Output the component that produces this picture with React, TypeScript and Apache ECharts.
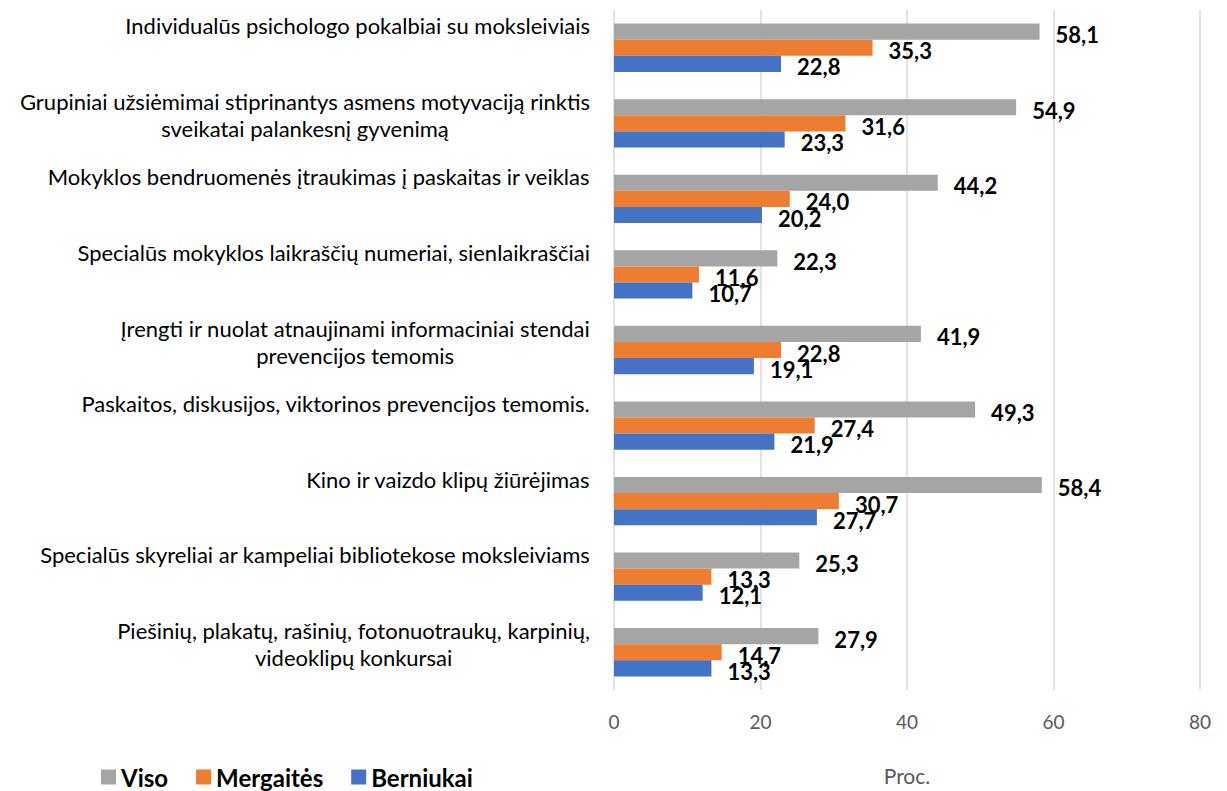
import React, { useEffect, useRef } from "react";
import * as echarts from "echarts";

const categories = [
  "Individualūs psichologo pokalbiai su moksleiviais",
  "Grupiniai užsiėmimai stiprinantys asmens motyvaciją rinktis\nsveikatai palankesnį gyvenimą",
  "Mokyklos bendruomenės įtraukimas į paskaitas ir veiklas",
  "Specialūs mokyklos laikraščių numeriai, sienlaikraščiai",
  "Įrengti ir nuolat atnaujinami informaciniai stendai\nprevencijos temomis",
  "Paskaitos, diskusijos, viktorinos prevencijos temomis.",
  "Kino ir vaizdo klipų žiūrėjimas",
  "Specialūs skyreliai ar kampeliai bibliotekose moksleiviams",
  "Piešinių, plakatų, rašinių, fotonuotraukų, karpinių,\nvideoklipų konkursai",
];

const viso = [58.1, 54.9, 44.2, 22.3, 41.9, 49.3, 58.4, 25.3, 27.9];
const mergaites = [35.3, 31.6, 24.0, 11.6, 22.8, 27.4, 30.7, 13.3, 14.7];
const berniukai = [22.8, 23.3, 20.2, 10.7, 19.1, 21.9, 27.7, 12.1, 13.3];

const xTicks = { min: 0, max: 80, interval: 20 };
const axisName = "Proc.";
const seriesNames = ["Viso", "Mergaitės", "Berniukai"];
const colors = ["#A5A5A5", "#ED7D31", "#4472C4"];

const FONT = "Lato, 'Liberation Sans', sans-serif";

export default function App() {
  const ref = useRef<HTMLDivElement>(null);
  useEffect(() => {
    if (!ref.current) return;
    const chart = echarts.init(ref.current, undefined, { renderer: "svg" });
    const fmt = (p: any) => Number(p.value).toFixed(1).replace(".", ",");
    const mkSeries = (name: string, data: number[], color: string) => ({
      name,
      type: "bar",
      data,
      barGap: "0%",
      barCategoryGap: "36%",
      itemStyle: { color },
      label: {
        show: true,
        position: "right",
        distance: 16,
        offset: [0, 3],
        formatter: fmt,
        color: "#000",
        fontWeight: "bold",
        fontSize: 22,
        fontFamily: FONT,
      },
    });
    chart.setOption({
      animation: false,
      textStyle: { fontFamily: FONT },
      grid: { left: 614, right: 27, top: 10, bottom: 101, containLabel: false },
      legend: {
        left: 96,
        top: 760,
        icon: "rect",
        itemWidth: 15,
        itemHeight: 15,
        itemGap: 28,
        data: seriesNames,
        textStyle: { color: "#000", fontWeight: "bold", fontSize: 24, fontFamily: FONT },
      },
      xAxis: {
        type: "value",
        min: xTicks.min,
        max: xTicks.max,
        interval: xTicks.interval,
        name: axisName,
        nameLocation: "middle",
        nameGap: 75,
        nameTextStyle: { color: "#595959", fontSize: 21, fontFamily: FONT },
        axisLine: { show: false },
        axisTick: { show: false },
        axisLabel: { color: "#595959", fontSize: 19, margin: 22, fontFamily: FONT },
        splitLine: { show: true, lineStyle: { color: "#D9D9D9", width: 1.5 } },
      },
      yAxis: {
        type: "category",
        inverse: true,
        data: categories,
        axisLine: { show: false },
        axisTick: { show: false },
        axisLabel: {
          margin: 24,
          align: "right",
          verticalAlign: "middle",
          formatter: (v: string) => {
            const lines = v.split("\n");
            const sp = lines.length === 1 ? "sp1" : "sp2";
            return lines.map((l) => `{c|${l}}`).join("\n") + `\n{${sp}| }`;
          },
          rich: {
            c: { align: "center", lineHeight: 27, fontSize: 22, color: "#000", fontFamily: FONT },
            sp1: { lineHeight: 44, fontSize: 1 },
            sp2: { lineHeight: 17, fontSize: 1 },
          },
        },
      },
      series: [
        mkSeries(seriesNames[0], viso, colors[0]),
        mkSeries(seriesNames[1], mergaites, colors[1]),
        mkSeries(seriesNames[2], berniukai, colors[2]),
      ],
    });
    return () => chart.dispose();
  }, []);
  return (
    <div
      ref={ref}
      style={{ position: "fixed", left: 0, top: 0, width: 1227, height: 791, background: "#fff" }}
    />
  );
}
